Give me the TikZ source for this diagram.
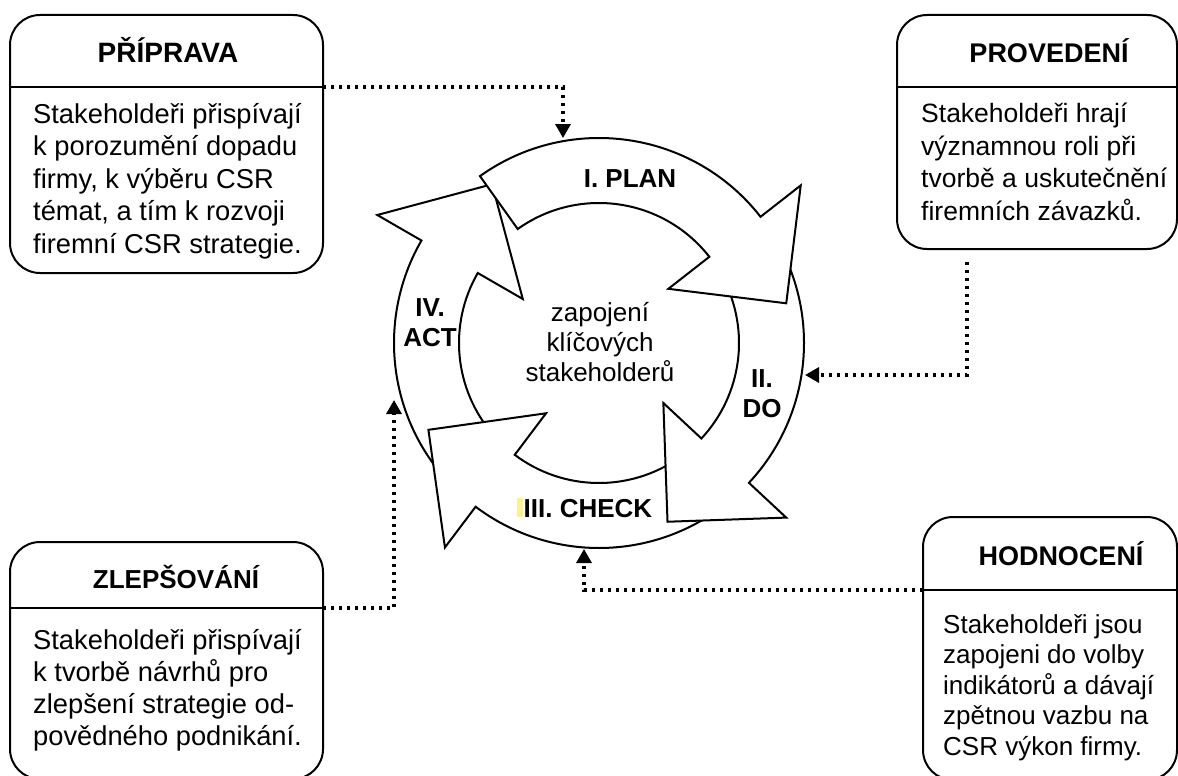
\documentclass[tikz,border=0pt]{standalone}
\usepackage{fontspec}
\setmainfont{Liberation Sans}
\usetikzlibrary{calc,arrows.meta}

\definecolor{hlyellow}{RGB}{250,240,150}

% one curved arrow of the cycle: tail angle, head-base angle
\newcommand\cyclearrow[2]{%
  \draw[ringarrow] ($(ring)+(#1:205)$) arc[start angle=#1, end angle=#2, radius=205]
    -- ($(ring)+(#2:256)$) -- ($(ring)+(#2:172)+(#2-90:84)$) -- ($(ring)+(#2:88)$)
    -- ($(ring)+(#2:140)$) arc[start angle=#2, end angle=#1, radius=140] -- cycle;}

\begin{document}
\begin{tikzpicture}[x=1pt,y=1pt,
  panel/.style={draw, line width=2pt, rounded corners=30pt, fill=white, inner sep=0pt},
  divider/.style={line width=2pt},
  heading/.style={font=\fontsize{27}{32}\selectfont\bfseries, inner sep=0pt, anchor=base},
  % multi-line nodes are anchored at the baseline of their last line
  bodytext/.style={font=\fontsize{26.5}{32.4}\selectfont, align=left, inner sep=0pt, anchor=base west},
  ringarrow/.style={draw, fill=white, line width=2pt, line join=miter},
  steplabel/.style={font=\fontsize{26}{30}\selectfont\bfseries, align=center, inner sep=0pt, anchor=base},
  link/.style={line width=3.2pt, dash pattern=on 3.2pt off 4.8pt, -{Triangle[length=14pt,width=15pt]}}
]
\useasboundingbox (0,0) rectangle (1178,-776);
\fill[white] (0,0) rectangle (1178,-776);

% ---- the PDCA cycle ----
\coordinate (ring) at (599,-343);
\cyclearrow{-139}{-210}
\cyclearrow{-55}{-127}
\cyclearrow{28}{-43}
\cyclearrow{125.5}{38}

\node[steplabel] (plan) at (630,-187) {I. PLAN};
\node[steplabel] (do) at (762,-417) {II.\\DO};
\fill[hlyellow] (517,-517) rectangle (523,-498);
\node[steplabel] (check) at (588,-517) {III. CHECK};
\node[steplabel] (act) at (430,-346) {IV.\\ACT};
\node[font=\fontsize{26}{30}\selectfont, align=center, inner sep=0pt, anchor=base] (core)
  at (600,-381) {zapojení\\klíčových\\stakeholderů};

% ---- phase panels ----
\node[panel, minimum width=313pt, minimum height=258pt] (prip) at (166.5,-144) {};
\coordinate (pripL) at (10,-87);  \coordinate (pripR) at (323,-87);
\draw[divider] (pripL) -- (pripR);
\node[heading, font=\fontsize{28}{32}\selectfont\bfseries] (pripT) at (168,-63) {PŘÍPRAVA};
\node[bodytext, font=\fontsize{27.3}{32.4}\selectfont] (pripB) at (33,-253) {Stakeholdeři přispívají\\k porozumění dopadu\\firmy, k výběru CSR\\témat, a tím k rozvoji\\firemní CSR strategie.};

\node[panel, minimum width=280pt, minimum height=234pt] (prov) at (1037,-132) {};
\coordinate (provL) at (897,-87);  \coordinate (provR) at (1177,-87);
\draw[divider] (provL) -- (provR);
\node[heading] (provT) at (1049,-63) {PROVEDENÍ};
\node[bodytext] (provB) at (921,-220) {Stakeholdeři hrají\\významnou roli při\\tvorbě a uskutečnění\\firemních závazků.};

\node[panel, minimum width=313pt, minimum height=237pt] (zlep) at (166.5,-660.5) {};
\coordinate (zlepL) at (10,-608);  \coordinate (zlepR) at (323,-608);
\draw[divider] (zlepL) -- (zlepR);
\node[heading, font=\fontsize{26}{32}\selectfont\bfseries] (zlepT) at (176,-588) {ZLEPŠOVÁNÍ};
\node[bodytext, font=\fontsize{27.3}{31.7}\selectfont] (zlepB) at (33,-745) {Stakeholdeři přispívají\\k tvorbě návrhů pro\\zlepšení strategie od-\\povědného podnikání.};

\node[panel, minimum width=254pt, minimum height=263pt] (hodn) at (1050,-648.5) {};
\coordinate (hodnL) at (923,-590);  \coordinate (hodnR) at (1177,-590);
\draw[divider] (hodnL) -- (hodnR);
\node[heading] (hodnT) at (1061,-565) {HODNOCENÍ};
\node[bodytext, font=\fontsize{26}{30.5}\selectfont] (hodnB) at (943,-755) {Stakeholdeři jsou\\zapojeni do volby\\indikátorů a dávají\\zpětnou vazbu na\\CSR výkon firmy.};

% ---- dotted links into the cycle ----
\coordinate (planIn) at (563,-138);
\coordinate (provOut) at (967,-262);
\coordinate (doIn) at (805,-375);
\coordinate (actIn) at (394,-400);
\coordinate (checkIn) at (584,-549);

\draw[link] (pripR) -| (planIn);
\draw[link] (provOut) |- (doIn);
\draw[link] (zlepR) -| (actIn);
\draw[link] (hodnL) -| (checkIn);
\end{tikzpicture}
\end{document}
